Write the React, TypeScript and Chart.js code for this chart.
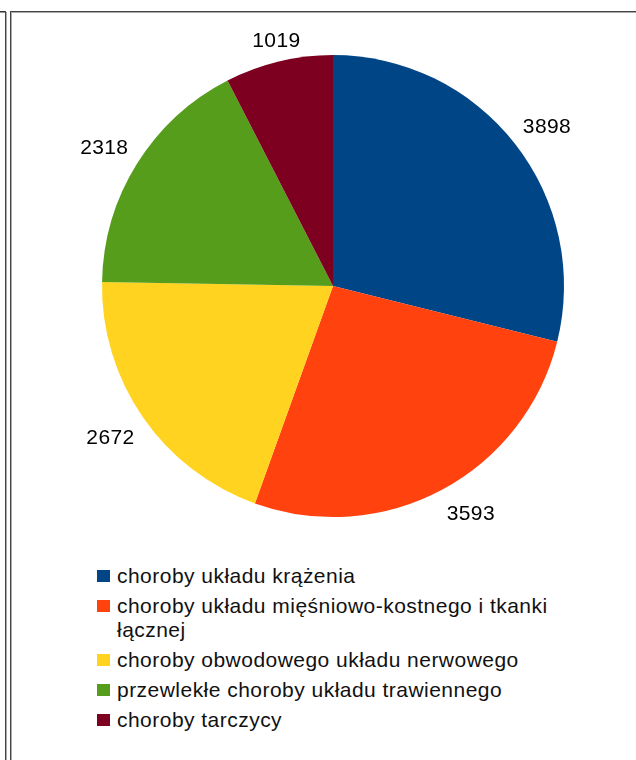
import React, { useEffect, useRef } from "react";
import { Chart, registerables } from "chart.js";

Chart.register(...registerables);

const categories: string[] = [
  "choroby układu krążenia",
  "choroby układu mięśniowo-kostnego i tkanki łącznej",
  "choroby obwodowego układu nerwowego",
  "przewlekłe choroby układu trawiennego",
  "choroby tarczycy",
];
const values: number[] = [3898, 3593, 2672, 2318, 1019];
const colors: string[] = ["#004586", "#ff420e", "#ffd320", "#579d1c", "#7e0021"];

const FONT = '"Liberation Sans", Arial, sans-serif';

const outsideLabels = {
  id: "outsideLabels",
  afterDatasetsDraw(chart: any) {
    const ctx: any = chart.ctx;
    const meta = chart.getDatasetMeta(0);
    const data = chart.data.datasets[0].data as number[];
    ctx.save();
    ctx.font = `21px ${FONT}`;
    ctx.fillStyle = "#000";
    ctx.textBaseline = "alphabetic";
    try {
      ctx.letterSpacing = "0.4px";
    } catch (e) {}
    meta.data.forEach((arc: any, i: number) => {
      const { x, y, startAngle, endAngle, outerRadius } = arc.getProps(
        ["x", "y", "startAngle", "endAngle", "outerRadius"],
        true
      );
      const mid = (startAngle + endAngle) / 2;
      const R = outerRadius + 10;
      const px = x + Math.cos(mid) * R;
      const py = y + Math.sin(mid) * R;
      const dx = Math.cos(mid);
      const dy = Math.sin(mid);
      const lim = Math.sin((22.5 * Math.PI) / 180);
      let align: CanvasTextAlign = "center";
      if (Math.abs(dx) >= lim) align = dx > 0 ? "left" : "right";
      let by = py + 7;
      if (Math.abs(dy) >= lim) by = dy < 0 ? py - 4.6 : py + 21.2;
      ctx.textAlign = align;
      ctx.fillText(String(data[i]), px, by);
    });
    ctx.restore();
  },
};

export default function App() {
  const ref = useRef<HTMLCanvasElement | null>(null);
  useEffect(() => {
    if (!ref.current) return;
    const chart = new Chart(ref.current, {
      type: "pie",
      data: {
        labels: categories,
        datasets: [
          {
            data: values,
            backgroundColor: colors,
            borderWidth: 0,
            hoverOffset: 0,
          },
        ],
      },
      options: {
        responsive: false,
        maintainAspectRatio: false,
        animation: false,
        layout: { padding: { left: 102, right: 72, top: 55, bottom: 43 } },
        plugins: {
          legend: { display: false },
          tooltip: { enabled: false },
        },
      },
      plugins: [outsideLabels],
    });
    return () => chart.destroy();
  }, []);

  return (
    <div
      style={{
        position: "absolute",
        left: 0,
        top: 0,
        width: 636,
        height: 760,
        background: "#fff",
        overflow: "hidden",
        fontFamily: FONT,
      }}
    >
      {/* frame lines */}
      <div style={{ position: "absolute", left: 0, top: 11, width: 6, height: 1, background: "#333" }} />
      <div style={{ position: "absolute", left: 0, top: 12, width: 6, height: 1, background: "#999" }} />
      <div style={{ position: "absolute", left: 5, top: 11, width: 1, height: 749, background: "#444" }} />
      <div style={{ position: "absolute", left: 6, top: 12, width: 1, height: 748, background: "#aaa" }} />
      <div style={{ position: "absolute", left: 10, top: 11, width: 626, height: 1, background: "#444" }} />
      <div style={{ position: "absolute", left: 10, top: 12, width: 626, height: 1, background: "#aaa" }} />
      <div style={{ position: "absolute", left: 10, top: 11, width: 1, height: 749, background: "#444" }} />
      <div style={{ position: "absolute", left: 11, top: 12, width: 1, height: 748, background: "#aaa" }} />

      <canvas
        ref={ref}
        width={636}
        height={560}
        style={{ position: "absolute", left: 0, top: 0, width: 636, height: 560 }}
      />

      <div style={{ position: "absolute", left: 97, top: 563.7, width: 470 }}>
        {categories.map((c, i) => (
          <div
            key={c}
            style={{
              position: "relative",
              paddingLeft: 20,
              marginBottom: 6,
              fontSize: 21,
              lineHeight: "24px",
              letterSpacing: "0.47px",
              color: "#111",
              width: 445,
            }}
          >
            <span
              style={{
                position: "absolute",
                left: 0,
                top: 6.3,
                width: 13,
                height: 12,
                background: colors[i],
              }}
            />
            {c}
          </div>
        ))}
      </div>
    </div>
  );
}
